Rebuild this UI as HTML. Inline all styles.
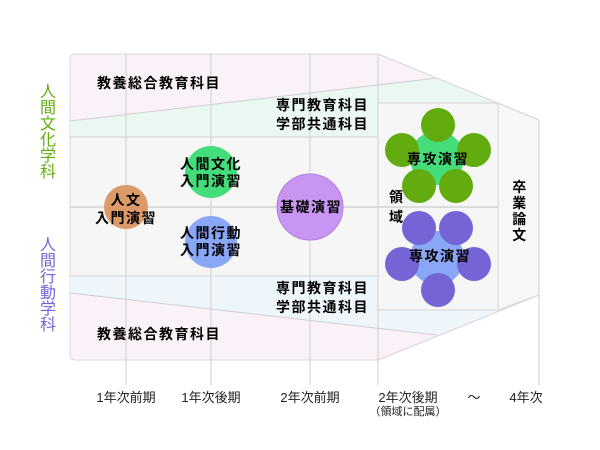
<!DOCTYPE html>
<html><head><meta charset="utf-8"><style>
html,body{margin:0;padding:0;background:#fff;}
svg{display:block;}
text{font-family:"Liberation Sans","Noto Sans CJK JP",sans-serif;}
.b{font-size:14px;font-weight:bold;fill:#000;letter-spacing:1.5px;}
.s{font-size:13px;fill:#222;}
</style></head><body>
<svg width="600" height="450" viewBox="0 0 600 450" xmlns="http://www.w3.org/2000/svg">
<path d="M76,54 L378,54 L539,120 L539,295 L378,360 L76,360 Q70,360 70,354 L70,60 Q70,54 76,54 Z" fill="#fbf2f9" stroke="#d8d8d8" stroke-width="1"/>
<polygon points="70,121 437,78 498,103 378,103 378,137 70,137" fill="#eaf8f1"/>
<line x1="70" y1="121" x2="437" y2="78" stroke="#cfcfcf"/>
<polygon points="70,276 378,276 378,310 498,310 437,335 70,293" fill="#eef6fc"/>
<line x1="70" y1="293" x2="437" y2="335" stroke="#cfcfcf"/>
<rect x="70" y="137" width="308" height="139" fill="#f6f6f6" stroke="#d4d4d4"/>
<line x1="70" y1="207" x2="378" y2="207" stroke="#d4d4d4" stroke-width="1.5"/>
<polygon points="498,103 539,120 539,295 498,310" fill="#f7f7f7" stroke="#d8d8d8"/>
<line x1="378" y1="54" x2="539" y2="120" stroke="#d8d8d8"/>
<line x1="378" y1="360" x2="539" y2="295" stroke="#d8d8d8"/>
<rect x="378" y="103" width="120" height="207" fill="#f6f6f6" stroke="#d4d4d4"/>
<line x1="378" y1="207" x2="498" y2="207" stroke="#d4d4d4" stroke-width="1.5"/>
<g stroke="#cfcfcf" stroke-width="1">
<line x1="126" y1="54" x2="126" y2="385"/>
<line x1="211" y1="54" x2="211" y2="385"/>
<line x1="310" y1="54" x2="310" y2="385"/>
<line x1="378" y1="54" x2="378" y2="385"/>
<line x1="539" y1="120" x2="539" y2="385"/>
</g>
<text class="b" x="97" y="88">教養総合教育科目</text>
<text class="b" x="97" y="339">教養総合教育科目</text>
<text class="b" x="276" y="110">専門教育科目</text>
<text class="b" x="276" y="129">学部共通科目</text>
<text class="b" x="276" y="293">専門教育科目</text>
<text class="b" x="276" y="312">学部共通科目</text>
<circle cx="126" cy="207" r="22" fill="#dc9a68"/>
<circle cx="211" cy="172" r="26" fill="#45dd7a"/>
<circle cx="211" cy="242" r="26" fill="#8aa6f7"/>
<circle cx="310" cy="207" r="33" fill="#c896f2" stroke="#b27ee0"/>
<text class="b" x="126" y="205" text-anchor="middle">人文</text>
<text class="b" x="126" y="223" text-anchor="middle">入門演習</text>
<text class="b" x="211" y="169" text-anchor="middle">人間文化</text>
<text class="b" x="211" y="186" text-anchor="middle">入門演習</text>
<text class="b" x="211" y="238" text-anchor="middle">人間行動</text>
<text class="b" x="211" y="255" text-anchor="middle">入門演習</text>
<text class="b" x="311" y="212" text-anchor="middle">基礎演習</text>
<circle cx="437" cy="158" r="27" fill="#45dd7a"/>
<g fill="#62ac10">
<circle cx="438" cy="125" r="17"/><circle cx="402" cy="150" r="17"/><circle cx="474" cy="150" r="17"/>
<circle cx="419" cy="186" r="17"/><circle cx="456" cy="186" r="17"/>
</g>
<text class="b" x="438" y="164" text-anchor="middle">専攻演習</text>
<circle cx="437" cy="258" r="27" fill="#8aa6f7"/>
<g fill="#7464d6">
<circle cx="419" cy="228" r="17"/><circle cx="456" cy="228" r="17"/><circle cx="402" cy="264" r="17"/>
<circle cx="474" cy="264" r="17"/><circle cx="438" cy="290" r="17"/>
</g>
<text class="b" x="440" y="261" text-anchor="middle">専攻演習</text>
<text class="b" x="389" y="202">領</text>
<text class="b" x="389" y="222">域</text>
<text class="b" x="520" y="192" text-anchor="middle">卒</text>
<text class="b" x="520" y="208" text-anchor="middle">業</text>
<text class="b" x="520" y="224" text-anchor="middle">論</text>
<text class="b" x="520" y="240" text-anchor="middle">文</text>
<g font-size="16" text-anchor="middle" fill="#62ac10">
<text x="48" y="97">人</text><text x="48" y="113">間</text><text x="48" y="129">文</text>
<text x="48" y="145">化</text><text x="48" y="161">学</text><text x="48" y="177">科</text>
</g>
<g font-size="16" text-anchor="middle" fill="#7464d6">
<text x="48" y="250">人</text><text x="48" y="266">間</text><text x="48" y="282">行</text>
<text x="48" y="298">動</text><text x="48" y="314">学</text><text x="48" y="330">科</text>
</g>
<text class="s" x="126" y="402" text-anchor="middle">1年次前期</text>
<text class="s" x="211" y="402" text-anchor="middle">1年次後期</text>
<text class="s" x="310" y="402" text-anchor="middle">2年次前期</text>
<text class="s" x="408" y="402" text-anchor="middle">2年次後期</text>
<text x="408" y="415" text-anchor="middle" font-size="11" fill="#222">（領域に配属）</text>
<text class="s" x="474" y="402" text-anchor="middle">～</text>
<text class="s" x="526" y="402" text-anchor="middle">4年次</text>
</svg>
</body></html>
